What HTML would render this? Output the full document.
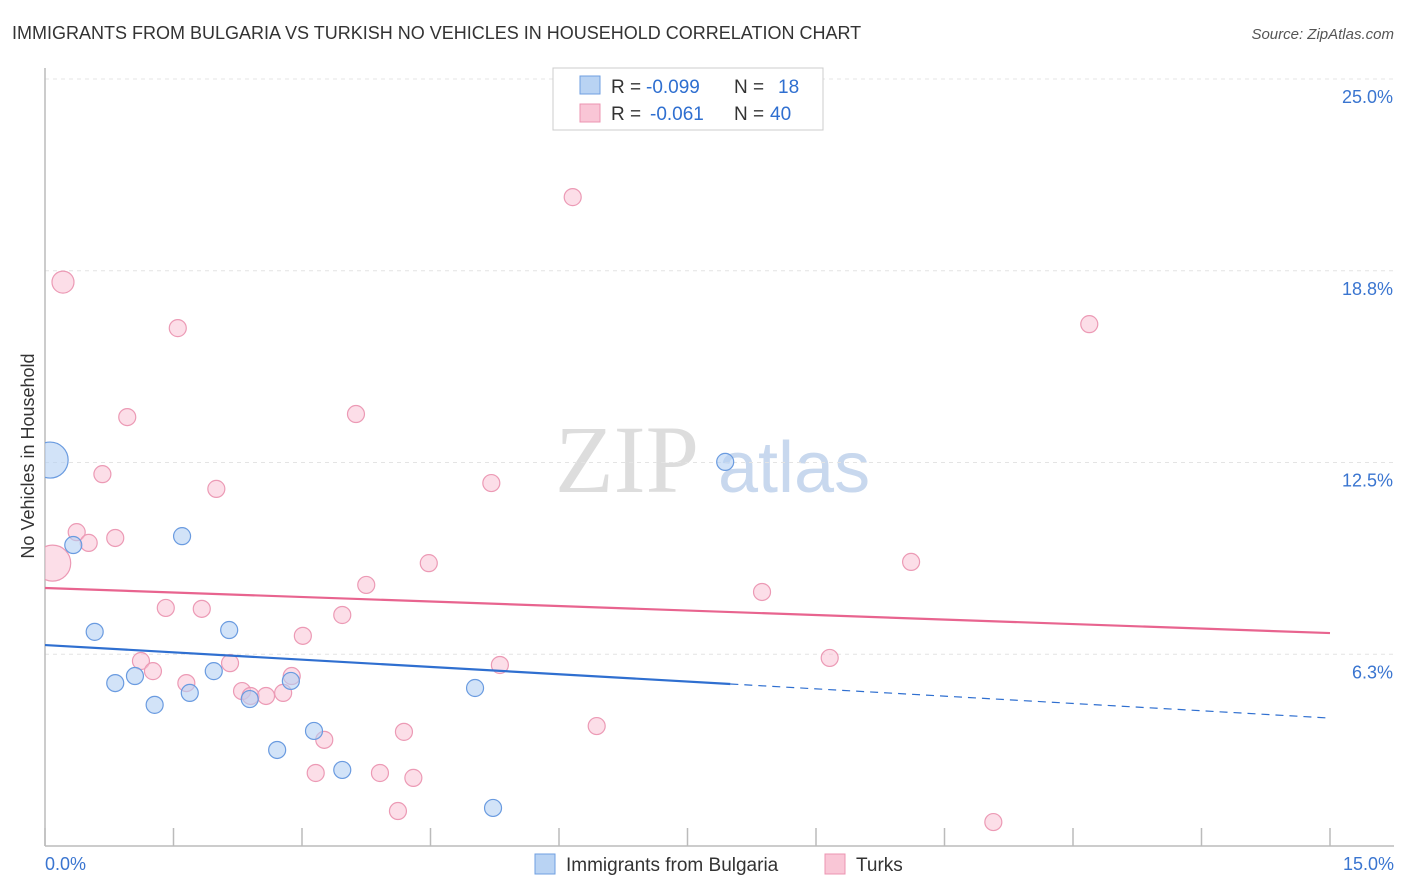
<!DOCTYPE html>
<html><head><meta charset="utf-8"><style>
body{margin:0;background:#fff;font-family:"Liberation Sans",sans-serif;}
svg{display:block}
</style></head><body>
<svg id="c" width="1406" height="892">
<defs><clipPath id="plot"><rect x="45" y="60" width="1360" height="786"/></clipPath></defs>
<text x="12" y="39" font-size="18" fill="#333">IMMIGRANTS FROM BULGARIA VS TURKISH NO VEHICLES IN HOUSEHOLD CORRELATION CHART</text>
<text x="1394" y="39" font-size="15" fill="#555" font-style="italic" text-anchor="end">Source: ZipAtlas.com</text>
<text transform="translate(34,456) rotate(-90)" font-size="18" fill="#333" text-anchor="middle">No Vehicles in Household</text>
<text x="555" y="492" font-size="96" fill="#ddd" font-family="Liberation Serif,serif">ZIP</text>
<text x="718" y="492" font-size="72" fill="#c8d8ee">atlas</text>
<g id="grid"></g><g id="marks" clip-path="url(#plot)"></g>
<g>
<rect x="553" y="68" width="270" height="62" fill="#fff" stroke="#ccc"/>
<rect x="580" y="76" width="20" height="18" fill="#b9d3f3" stroke="#6f9fe0"/>
<rect x="580" y="104" width="20" height="18" fill="#f9c6d6" stroke="#ec94b1"/>
<text x="611" y="93" font-size="19" fill="#333">R =</text>
<text x="646" y="93" font-size="19" fill="#2f6fd0">-0.099</text>
<text x="734" y="93" font-size="19" fill="#333">N =</text>
<text x="778" y="93" font-size="19" fill="#2f6fd0">18</text>
<text x="611" y="120" font-size="19" fill="#333">R =</text>
<text x="650" y="120" font-size="19" fill="#2f6fd0">-0.061</text>
<text x="734" y="120" font-size="19" fill="#333">N =</text>
<text x="770" y="120" font-size="19" fill="#2f6fd0">40</text>
</g>
<g>
<rect x="535" y="854" width="20" height="20" fill="#b9d3f3" stroke="#6f9fe0"/>
<text x="566" y="871" font-size="19" fill="#333">Immigrants from Bulgaria</text>
<rect x="825" y="854" width="20" height="20" fill="#f9c6d6" stroke="#ec94b1"/>
<text x="856" y="871" font-size="19" fill="#333">Turks</text>
</g>
</svg>
<script>
const yTicks=[6.3,12.5,18.8,25.0];
const yTickVals=[6.25,12.5,18.75,25];
const blueX=[0.06,0.33,0.58,0.82,1.05,1.28,1.60,1.69,1.97,2.15,2.39,2.87,2.71,3.14,3.47,5.02,5.23,7.94];
const blueY=[12.58,9.81,6.98,5.31,5.54,4.60,10.10,4.99,5.70,7.04,4.79,5.38,3.13,3.75,2.48,5.15,1.24,12.52];
const blueR=[18,8.5,8.5,8.5,8.5,8.5,8.5,8.5,8.5,8.5,8.5,8.5,8.5,8.5,8.5,8.5,8.5,8.5];
const pinkX=[0.09,0.21,1.55,0.96,6.16,12.19,3.63,0.67,2.00,5.21,0.37,0.51,0.82,4.48,10.11,3.75,8.37,1.41,1.83,3.47,3.01,9.16,1.12,1.26,2.16,5.31,1.65,2.30,2.40,2.58,2.78,2.88,6.44,4.19,3.26,3.16,3.91,4.30,4.12,11.07];
const pinkY=[9.22,18.38,16.88,13.98,21.15,17.01,14.08,12.12,11.64,11.83,10.23,9.88,10.04,9.22,9.26,8.51,8.28,7.76,7.73,7.53,6.85,6.13,6.03,5.70,5.96,5.90,5.31,5.05,4.89,4.89,4.99,5.54,3.91,3.72,3.46,2.38,2.38,2.22,1.14,0.78];
const pinkBig=[18,11];
const trendPink=[8.41,6.94];
const trendBlue=[6.55,4.17];
const blueSolidEnd=8.0;
const X=v=>45+v/15*1285, Y=v=>846-v/25*767;
const NS="http://www.w3.org/2000/svg";
function mk(t,a,p){const e=document.createElementNS(NS,t);for(const k in a)e.setAttribute(k,a[k]);p.appendChild(e);return e;}
const g=document.getElementById('grid'), m=document.getElementById('marks');
yTickVals.forEach((v,i)=>{
 const l=mk('line',{x1:45,x2:1394,y1:Y(v),y2:Y(v),stroke:'#e4e4e4','stroke-dasharray':'4,4'},g);
 
 
 const t=mk('text',{x:1393,y:Y(v)+24,'font-size':18,fill:'#3a75d0','text-anchor':'end'},g);
 t.textContent=yTicks[i].toFixed(1)+'%';
 
 
});
mk('line',{x1:45,x2:45,y1:68,y2:846,stroke:'#bbb','stroke-width':1.5},g);
mk('line',{x1:45,x2:1394,y1:846,y2:846,stroke:'#bbb','stroke-width':1.5},g);
for(let i=0;i<=10;i++){const x=X(i*1.5);const tk=mk('line',{x1:x,x2:x,y1:828,y2:846,stroke:'#bbb','stroke-width':1.5},g);
 
 }
const xl=mk('text',{x:45,y:870,'font-size':18,fill:'#3a75d0'},g);xl.textContent='0.0%';


const xr=mk('text',{x:1394,y:870,'font-size':18,fill:'#3a75d0','text-anchor':'end'},g);xr.textContent='15.0%';


pinkX.forEach((v,i)=>{const c=mk('circle',{cx:X(v),cy:Y(pinkY[i]),r:pinkBig[i]||8.5,fill:'rgba(249,190,210,0.5)',stroke:'#ec9ab5','stroke-width':1.2},m);
 
 });
blueX.forEach((v,i)=>{const c=mk('circle',{cx:X(v),cy:Y(blueY[i]),r:blueR[i],fill:'rgba(180,208,243,0.6)',stroke:'#6a9be0','stroke-width':1.2},m);
 
 });
const tp=mk('line',{x1:X(0),y1:Y(trendPink[0]),x2:X(15),y2:Y(trendPink[1]),stroke:'#e8648f','stroke-width':2.2},m);


const by=v=>trendBlue[0]+(trendBlue[1]-trendBlue[0])*v/15;
const tb=mk('line',{x1:X(0),y1:Y(by(0)),x2:X(blueSolidEnd),y2:Y(by(blueSolidEnd)),stroke:'#2f6fd0','stroke-width':2.2},m);


const td=mk('line',{x1:X(blueSolidEnd),y1:Y(by(blueSolidEnd)),x2:X(15),y2:Y(by(15)),stroke:'#2f6fd0','stroke-width':1.2,'stroke-dasharray':'8,6'},m);


</script>
</body></html>
